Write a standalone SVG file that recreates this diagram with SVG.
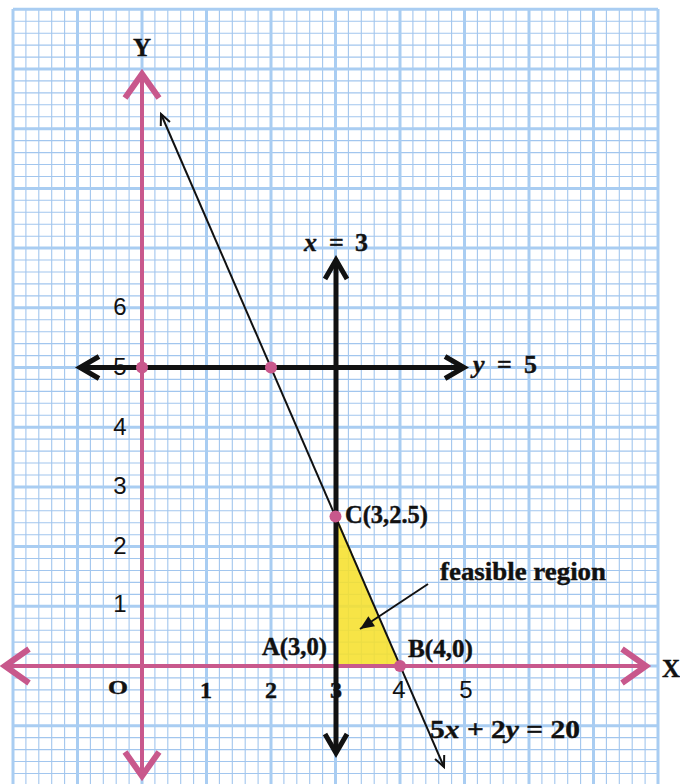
<svg xmlns="http://www.w3.org/2000/svg" width="680" height="784" viewBox="0 0 680 784">
<style>
.minor{fill:none;stroke:#a2c6ee;stroke-width:1.1}
.major{fill:none;stroke:#a9cdf2;stroke-width:3}
.axis{stroke:#c8588c;stroke-width:4;fill:none}
.bold{stroke:#111;stroke-width:5;fill:none}
.thin{stroke:#111;stroke-width:2;fill:none}
.dot{fill:#c8588c}
.lbl{font-family:"Liberation Serif","Times New Roman",serif;font-weight:bold;fill:#111;stroke:#111;stroke-width:0.4}
.num{font-family:"Liberation Sans",Arial,sans-serif;font-size:24px;fill:#111}
</style>
<defs>
<marker id="pinkHead" markerUnits="userSpaceOnUse" markerWidth="40" markerHeight="40" refX="0" refY="0" orient="auto-start-reverse" overflow="visible">
<path d="M-24,-17 L0,0 L-24,17" fill="none" stroke="#c8588c" stroke-width="6"/>
</marker>
<marker id="blackHead" markerUnits="userSpaceOnUse" markerWidth="40" markerHeight="40" refX="0" refY="0" orient="auto-start-reverse" overflow="visible">
<path d="M-19,-11 L0,0 L-19,11" fill="none" stroke="#111" stroke-width="5"/>
</marker>
<marker id="thinHead" markerUnits="userSpaceOnUse" markerWidth="20" markerHeight="20" refX="0" refY="0" orient="auto-start-reverse" overflow="visible">
<path d="M-11,-5 L0,0 L-11,5" fill="none" stroke="#111" stroke-width="2"/>
</marker>
<marker id="solidHead" markerUnits="userSpaceOnUse" markerWidth="20" markerHeight="20" refX="0" refY="0" orient="auto" overflow="visible">
<path d="M-14,-6 L0,0 L-14,6 Z" fill="#111"/>
</marker>
</defs>
<rect width="680" height="784" fill="#ffffff"/>
<g id="grid">
<path class="minor" d="M25.9 9V784M38.8 9V784M51.7 9V784M64.6 9V784M90.4 9V784M103.3 9V784M116.2 9V784M129.1 9V784M154.9 9V784M167.8 9V784M180.7 9V784M193.6 9V784M219.4 9V784M232.3 9V784M245.2 9V784M258.1 9V784M283.9 9V784M296.8 9V784M309.7 9V784M322.6 9V784M348.4 9V784M361.3 9V784M374.2 9V784M387.1 9V784M412.9 9V784M425.8 9V784M438.7 9V784M451.6 9V784M477.4 9V784M490.3 9V784M503.2 9V784M516.1 9V784M541.9 9V784M554.8 9V784M567.7 9V784M580.6 9V784M606.4 9V784M619.3 9V784M632.2 9V784M645.1 9V784
M13 21.2H658M13 33.2H658M13 45.1H658M13 57.1H658M13 80.9H658M13 92.9H658M13 104.8H658M13 116.8H658M13 140.6H658M13 152.6H658M13 164.5H658M13 176.5H658M13 200.3H658M13 212.3H658M13 224.2H658M13 236.2H658M13 260H658M13 272H658M13 283.9H658M13 295.9H658M13 319.7H658M13 331.7H658M13 343.6H658M13 355.6H658M13 379.4H658M13 391.4H658M13 403.3H658M13 415.3H658M13 439.1H658M13 451.1H658M13 463H658M13 475H658M13 498.8H658M13 510.8H658M13 522.7H658M13 534.7H658M13 558.5H658M13 570.5H658M13 582.4H658M13 594.4H658M13 618.2H658M13 630.2H658M13 642.1H658M13 654.1H658M13 677.9H658M13 689.9H658M13 701.8H658M13 713.8H658M13 737.6H658M13 749.6H658M13 761.5H658M13 773.5H658"/>
<path class="major" d="M13 9V784M77.5 9V784M142 9V784M206.5 9V784M271 9V784M335.5 9V784M400 9V784M464.5 9V784M529 9V784M593.5 9V784M658 9V784
M13 9.3H658M13 69H658M13 128.7H658M13 188.4H658M13 248.1H658M13 307.8H658M13 367.5H658M13 427.2H658M13 486.9H658M13 546.6H658M13 606.3H658M13 666H658M13 725.7H658"/>
</g>
<g id="feasible-region">
<polygon points="337,666 337,517 400,666" fill="#f6e02c" fill-opacity="0.88"/>
</g>
<g id="connectors">
<line id="x-axis" class="axis" x1="5" y1="666" x2="646" y2="666" marker-start="url(#pinkHead)" marker-end="url(#pinkHead)"/>
<line id="y-axis" class="axis" x1="142" y1="74" x2="142" y2="776" marker-start="url(#pinkHead)" marker-end="url(#pinkHead)"/>
<line id="line-x3" class="bold" x1="336" y1="260" x2="336" y2="753" marker-start="url(#blackHead)" marker-end="url(#blackHead)"/>
<line id="line-y5" class="bold" x1="80" y1="367.5" x2="464" y2="367.5" marker-start="url(#blackHead)" marker-end="url(#blackHead)"/>
<line id="line-5x2y" class="thin" x1="161" y1="114" x2="444" y2="767" marker-start="url(#thinHead)" marker-end="url(#thinHead)"/>
<line id="feasible-pointer" class="thin" x1="428" y1="584" x2="360" y2="629" marker-end="url(#solidHead)"/>
</g>
<g id="points">
<circle class="dot" cx="142" cy="367.5" r="6"/>
<circle class="dot" cx="271" cy="367.5" r="6"/>
<circle id="pt-C" class="dot" cx="335.5" cy="516.5" r="6"/>
<circle id="pt-B" class="dot" cx="400" cy="666" r="6"/>
</g>
<g id="labels">
<text class="lbl" x="142" y="56" font-size="25" text-anchor="middle">Y</text>
<text class="lbl" x="662" y="677" font-size="25">X</text>
<text class="lbl" font-size="26" y="251"><tspan x="304" font-style="italic">x</tspan><tspan x="329">=</tspan><tspan x="355">3</tspan></text>
<text class="lbl" font-size="26" y="373"><tspan x="473" font-style="italic">y</tspan><tspan x="497">=</tspan><tspan x="524">5</tspan></text>
<text class="lbl" x="345" y="523" font-size="25" textLength="83" lengthAdjust="spacingAndGlyphs">C(3,2.5)</text>
<text class="lbl" x="262" y="655" font-size="25" textLength="65" lengthAdjust="spacingAndGlyphs">A(3,0)</text>
<text class="lbl" x="408" y="657" font-size="25" textLength="65" lengthAdjust="spacingAndGlyphs">B(4,0)</text>
<text class="lbl" x="440" y="580" font-size="25" textLength="166" lengthAdjust="spacingAndGlyphs">feasible region</text>
<text class="lbl" x="430" y="738" font-size="25" textLength="150" lengthAdjust="spacingAndGlyphs">5<tspan font-style="italic">x</tspan> + 2<tspan font-style="italic">y</tspan> = 20</text>
<text class="num" x="120" y="315" text-anchor="middle">6</text>
<text class="num" x="120" y="375" text-anchor="middle">5</text>
<text class="num" x="120" y="435" text-anchor="middle">4</text>
<text class="num" x="120" y="494" text-anchor="middle">3</text>
<text class="num" x="120" y="554" text-anchor="middle">2</text>
<text class="num" x="120" y="612" text-anchor="middle">1</text>
<text class="lbl" x="108" y="694" font-size="19" textLength="20" lengthAdjust="spacingAndGlyphs">O</text>
<text class="lbl" x="206" y="698" font-size="24" text-anchor="middle">1</text>
<text class="lbl" x="271" y="698" font-size="24" text-anchor="middle">2</text>
<text class="lbl" x="336" y="698" font-size="24" text-anchor="middle">3</text>
<text class="num" x="399" y="698" text-anchor="middle">4</text>
<text class="num" x="466" y="698" text-anchor="middle">5</text>
</g>
</svg>
